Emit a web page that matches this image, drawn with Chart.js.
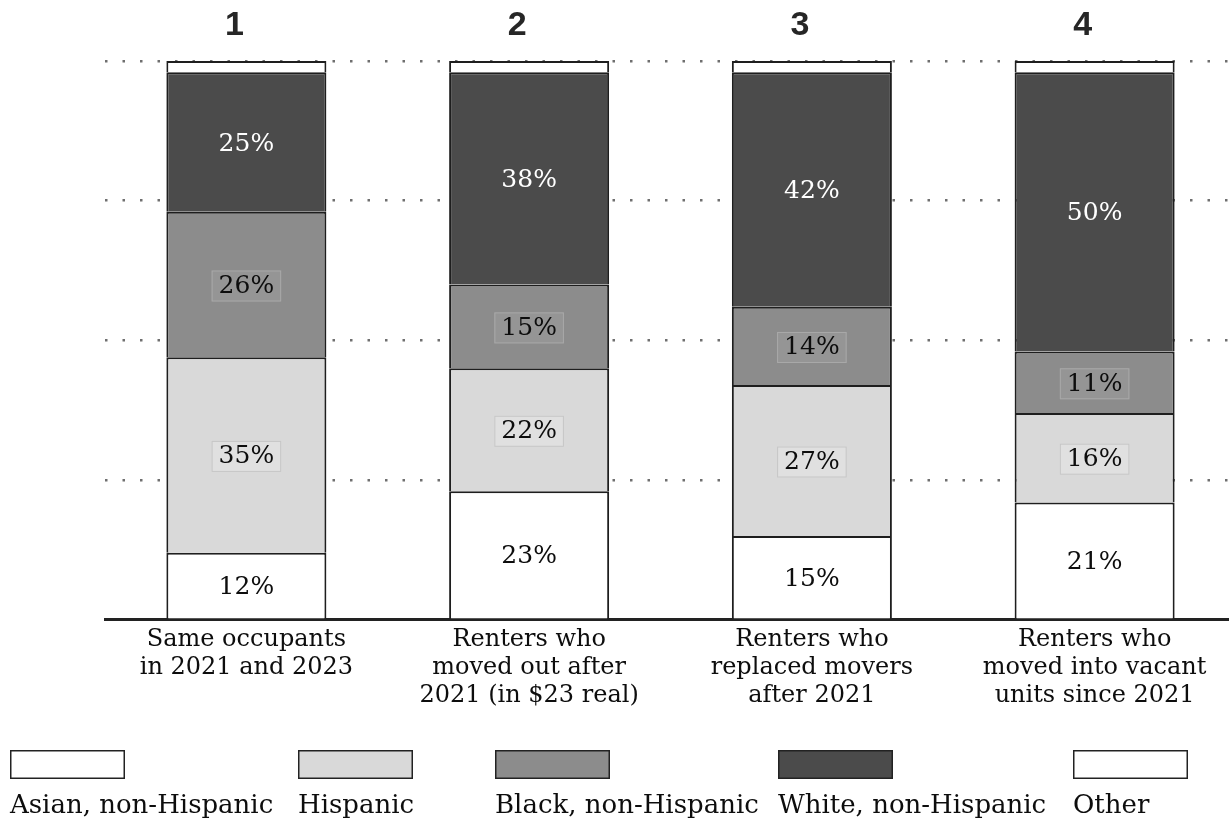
<!DOCTYPE html>
<html>
<head>
<meta charset="utf-8">
<script src="https://cdn.jsdelivr.net/npm/chart.js@4.4.1/dist/chart.umd.min.js"></script>
<style>
  html, body { margin: 0; padding: 0; background: #fff; overflow: hidden; }
  #wrap { width: 1236px; height: 822px; }
</style>
</head>
<body>
<div id="wrap"><canvas id="myChart" width="1236" height="822"></canvas></div>
<script>
// categories (bottom labels) and the numbers above each bar
var categories = [
  ["Same occupants", "in 2021 and 2023"],
  ["Renters who", "moved out after", "2021 (in $23 real)"],
  ["Renters who", "replaced movers", "after 2021"],
  ["Renters who", "moved into vacant", "units since 2021"]
];
var topLabels = ["1", "2", "3", "4"];

// shares in percent, bottom to top
var asian = [12, 23, 15, 21];
var hispanic = [35, 22, 27, 16];
var black = [26, 15, 14, 11];
var white = [25, 38, 42, 50];
var other = [2, 2, 2, 2];

var seriesNames = ["Asian, non-Hispanic", "Hispanic", "Black, non-Hispanic", "White, non-Hispanic", "Other"];
var yTicks = [0, 25, 50, 75, 100];

var serif = "'DejaVu Serif', 'Liberation Serif', serif";
var ink = "#0d0d0d";

// label style per series: text color and optional little box behind the number
var labelStyle = [
  { color: ink },
  { color: ink, box: "#e0e0e0", boxLine: "#c6c6c6" },
  { color: ink, box: "#959595", boxLine: "#a9a9a9" },
  { color: "#ffffff" },
  null
];

// where legend items start (x), they are not evenly spaced in the original
var legendX = [10, 298, 495, 778, 1073];

var valueLabels = {
  id: "valueLabels",
  afterDatasetsDraw: function(chart) {
    var ctx = chart.ctx;
    ctx.save();
    ctx.font = "25px " + serif;
    ctx.textAlign = "center";
    ctx.textBaseline = "middle";
    chart.data.datasets.forEach(function(ds, di) {
      var st = labelStyle[di];
      if (!st) return;
      chart.getDatasetMeta(di).data.forEach(function(bar, i) {
        var p = bar.getProps(["x", "y", "base"], true);
        var cy = (p.y + p.base) / 2 + 2;
        var txt = ds.data[i] + "%";
        if (st.box) {
          var w = ctx.measureText(txt).width + 14;
          ctx.fillStyle = st.box;
          ctx.fillRect(p.x - w / 2, cy - 16, w, 31);
          ctx.strokeStyle = st.boxLine;
          ctx.lineWidth = 1;
          ctx.strokeRect(p.x - w / 2 + 0.5, cy - 15.5, w - 1, 30);
        }
        ctx.fillStyle = st.color;
        ctx.fillText(txt, p.x, cy);
      });
    });
    // numbers above the bars
    var xs = chart.scales.x;
    ctx.font = "bold 34px 'Liberation Sans', Arial, sans-serif";
    ctx.fillStyle = "#262626";
    topLabels.forEach(function(t, i) {
      ctx.fillText(t, xs.getPixelForValue(i) - 12, 26);
    });
    ctx.restore();
  }
};

var boxLegend = {
  id: "boxLegend",
  afterDraw: function(chart) {
    var ctx = chart.ctx;
    ctx.save();
    chart.data.datasets.forEach(function(ds, i) {
      var x = legendX[i];
      ctx.fillStyle = ds.backgroundColor;
      ctx.fillRect(x, 750, 115, 29);
      ctx.strokeStyle = "#222";
      ctx.lineWidth = 1.5;
      ctx.strokeRect(x + 0.75, 750.75, 113.5, 27.5);
      ctx.fillStyle = ink;
      ctx.font = "26px " + serif;
      ctx.textAlign = "left";
      ctx.textBaseline = "middle";
      ctx.fillText(ds.label, x, 806);
    });
    ctx.restore();
  }
};

function makeSet(i, values, color) {
  return {
    label: seriesNames[i],
    data: values,
    backgroundColor: color,
    borderColor: "#1e1e1e",
    borderWidth: 2
  };
}

var ctx = document.getElementById("myChart").getContext("2d");
var chart = new Chart(ctx, {
  type: "bar",
  data: {
    labels: categories,
    datasets: [
      makeSet(0, asian, "#ffffff"),
      makeSet(1, hispanic, "#d9d9d9"),
      makeSet(2, black, "#8c8c8c"),
      makeSet(3, white, "#4b4b4b"),
      makeSet(4, other, "#ffffff")
    ]
  },
  options: {
    responsive: false,
    animation: false,
    devicePixelRatio: 1,
    layout: { padding: { top: 61, left: 105, right: 0, bottom: 114 } },
    datasets: { bar: { barPercentage: 1, categoryPercentage: 0.566 } },
    scales: {
      x: {
        stacked: true,
        grid: { display: false },
        border: { display: true, color: "#222", width: 3 },
        ticks: {
          color: ink,
          padding: -2,
          maxRotation: 0,
          autoSkip: false,
          font: { family: serif, size: 24, lineHeight: 1.17 }
        }
      },
      y: {
        stacked: true,
        min: 0,
        max: 100,
        afterBuildTicks: function(axis) {
          axis.ticks = yTicks.map(function(v) { return { value: v }; });
        },
        ticks: { display: false },
        border: { display: false, dash: [2.5, 15] },
        grid: {
          drawTicks: false,
          lineWidth: 2.5,
          color: function(c) { return c.tick && c.tick.value === 0 ? "rgba(0,0,0,0)" : "#6f6f6f"; }
        }
      }
    },
    plugins: {
      legend: { display: false },
      tooltip: { enabled: false }
    }
  },
  plugins: [valueLabels, boxLegend]
});
</script>
</body>
</html>
